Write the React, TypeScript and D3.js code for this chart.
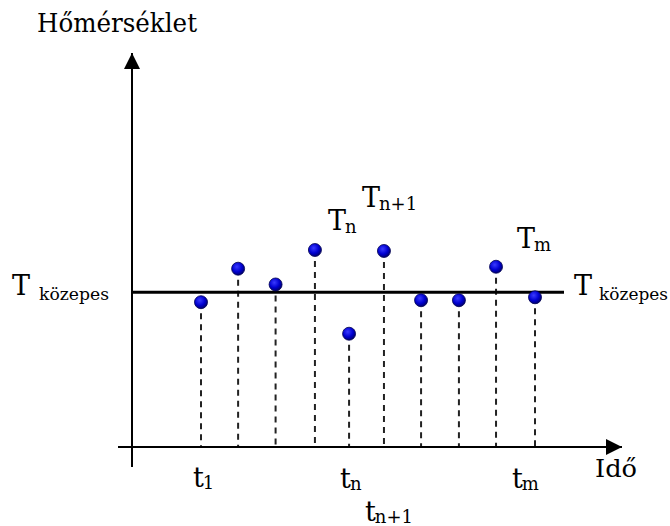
import React from "react";
import * as d3 from "d3";

// Sampling instants along the time axis and measured temperatures
const sampleTimes = [0, 1, 2.01, 3.07, 3.99, 4.93, 5.93, 6.95, 7.95, 9];
const temperatures = [14.7, 18.1, 16.5, 20.0, 11.5, 19.9, 14.9, 14.9, 18.3, 15.2];
const meanTemperature = 15.7;

// Annotations: point index (1-based), base letter, subscript
const pointLabels = [
  { idx: 4, base: "T", sub: "n", dx: 13, dy: -20 },
  { idx: 6, base: "T", sub: "n+1", dx: -22, dy: -44 },
  { idx: 9, base: "T", sub: "m", dx: 21, dy: -19 },
];
const timeLabels = [
  { idx: 1, base: "t", sub: "1", dx: -8, y: 487 },
  { idx: 5, base: "t", sub: "n", dx: -9, y: 488 },
  { idx: 6, base: "t", sub: "n+1", dx: -19, y: 521 },
  { idx: 10, base: "t", sub: "m", dx: -23, y: 488 },
];

const W = 670;
const H = 526;
const FONT = "'DejaVu Serif', serif";

const originX = 132;
const originY = 447;

const x = d3.scaleLinear().domain([0, 9]).range([201, 535]);
const y = d3.scaleLinear().domain([0, 40]).range([originY, 53]);

function Sub({ x0, y0, base, sub, size, subSize, subDy, subDx = 0 }: any) {
  return (
    <text x={x0} y={y0} fontFamily={FONT} fontSize={size} fill="#000">
      {base}
      <tspan fontSize={subSize} dx={subDx} dy={subDy}>{sub}</tspan>
    </text>
  );
}

export default function App() {
  const meanY = y(meanTemperature);
  return (
    <svg width={W} height={H} style={{ position: "absolute", left: 0, top: 0, background: "#fff" }}>
      <defs>
        <radialGradient id="ball" cx="40%" cy="35%" r="65%">
          <stop offset="0%" stopColor="#3a3aff" />
          <stop offset="60%" stopColor="#0000d0" />
          <stop offset="100%" stopColor="#000070" />
        </radialGradient>
        <marker id="arrow" viewBox="0 0 16 16" refX="16" refY="8" markerWidth="16" markerHeight="16" markerUnits="userSpaceOnUse" orient="auto">
          <path d="M0,0 L16,8 L0,16 Z" fill="#000" />
        </marker>
      </defs>

      {/* dashed drop lines */}
      {sampleTimes.map((t, i) => (
        <line key={"d" + i} x1={x(t)} x2={x(t)} y1={y(temperatures[i])} y2={originY}
          stroke="#222" strokeWidth={2} strokeDasharray="6,5" />
      ))}

      {/* axes */}
      <line x1={originX} x2={originX} y1={467} y2={y(40)} stroke="#000" strokeWidth={2} markerEnd="url(#arrow)" />
      <line x1={118} x2={622} y1={originY} y2={originY} stroke="#000" strokeWidth={2} markerEnd="url(#arrow)" />

      {/* mean line */}
      <line x1={originX} x2={564} y1={meanY} y2={meanY} stroke="#000" strokeWidth={3} />

      {/* points */}
      {sampleTimes.map((t, i) => (
        <circle key={"p" + i} cx={x(t)} cy={y(temperatures[i])} r={6.5} fill="url(#ball)" stroke="#000050" strokeWidth={0.8} />
      ))}

      {/* axis titles */}
      <text x={37} y={32} fontFamily={FONT} fontSize={26} textLength={160} lengthAdjust="spacingAndGlyphs" fill="#000">Hőmérséklet</text>
      <text x={595} y={477} fontFamily={FONT} fontSize={25} textLength={42} lengthAdjust="spacingAndGlyphs" fill="#000">Idő</text>

      {/* mean labels */}
      <text x={12} y={meanY + 3} fontFamily={FONT} fontSize={27} fill="#000">T</text>
      <text x={39} y={meanY + 8} fontFamily={FONT} fontSize={17} textLength={70} lengthAdjust="spacingAndGlyphs" fill="#000">közepes</text>
      <text x={574} y={meanY + 3} fontFamily={FONT} fontSize={27} fill="#000">T</text>
      <text x={599} y={meanY + 8} fontFamily={FONT} fontSize={17} textLength={69} lengthAdjust="spacingAndGlyphs" fill="#000">közepes</text>

      {pointLabels.map((l) => (
        <Sub key={l.sub + l.idx} x0={x(sampleTimes[l.idx - 1]) + l.dx} y0={y(temperatures[l.idx - 1]) + l.dy}
          base={l.base} sub={l.sub} size={27} subSize={18} subDy={3} subDx={-1} />
      ))}
      {timeLabels.map((l) => (
        <Sub key={"t" + l.sub} x0={x(sampleTimes[l.idx - 1]) + l.dx} y0={l.y}
          base={l.base} sub={l.sub} size={27} subSize={18} subDy={2} subDx={-1} />
      ))}
    </svg>
  );
}
